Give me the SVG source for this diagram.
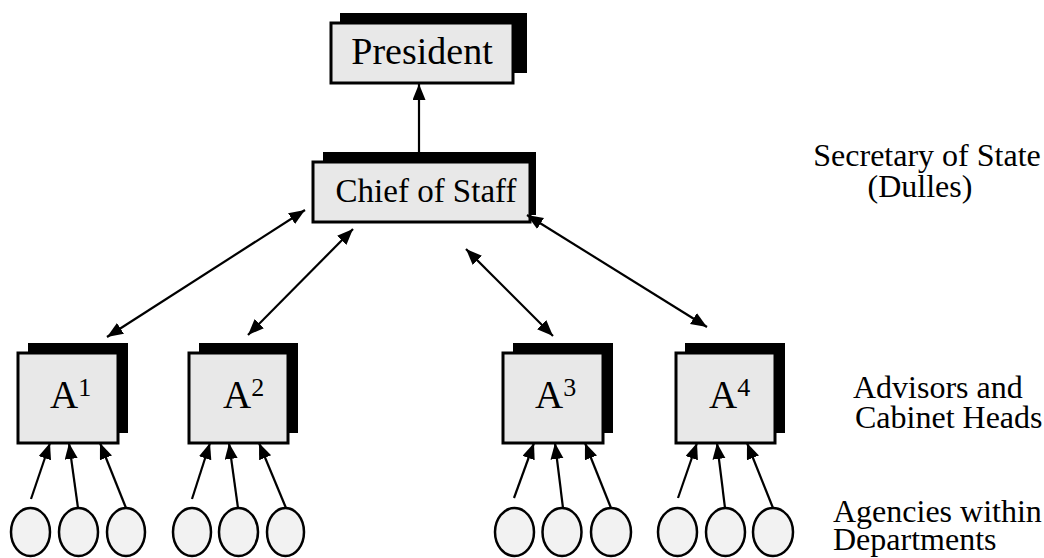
<svg xmlns="http://www.w3.org/2000/svg" width="1044" height="558" viewBox="0 0 1044 558">
<style>
.shadow{fill:#000}
.box{fill:#e8e8e8;stroke:#000;stroke-width:3}
.agency{fill:#f2f2f2;stroke:#000;stroke-width:2.5}
text{fill:#000}
.conn line{stroke:#000;stroke-width:2.2;fill:none}
.one{marker-end:url(#ah)}
.two{marker-end:url(#ah);marker-start:url(#ah)}
</style>
<defs>
<marker id="ah" markerUnits="userSpaceOnUse" markerWidth="18" markerHeight="15" refX="16" refY="6.5" orient="auto-start-reverse" viewBox="0 0 18 15">
<path d="M0,0 L16,6.5 L0,13 z" fill="#000"/>
</marker>
</defs>
<rect width="1044" height="558" fill="#fff"/>

<g id="president">
<rect class="shadow" x="340" y="13" width="187" height="60"/>
<rect class="box" x="331" y="23" width="182" height="60"/>
<text font-family="Liberation Serif, Times New Roman, serif" x="422" y="64" font-size="38" text-anchor="middle">President</text>
</g>

<g id="chief">
<rect class="shadow" x="323" y="152" width="213" height="63"/>
<rect class="box" x="313" y="162" width="217" height="60"/>
<text font-family="Liberation Serif, Times New Roman, serif" x="426" y="202" font-size="33" text-anchor="middle">Chief of Staff</text>
</g>

<g id="a1">
<rect class="shadow" x="28" y="343" width="100" height="90"/>
<rect class="box" x="18" y="353" width="100" height="90"/>
<text font-family="Liberation Serif, Times New Roman, serif" x="50" y="408" font-size="39">A<tspan font-size="26" dy="-12">1</tspan></text>
</g>
<g id="a2">
<rect class="shadow" x="199" y="343" width="99" height="90"/>
<rect class="box" x="189" y="353" width="99" height="90"/>
<text font-family="Liberation Serif, Times New Roman, serif" x="223" y="408" font-size="39">A<tspan font-size="26" dy="-12">2</tspan></text>
</g>
<g id="a3">
<rect class="shadow" x="513" y="343" width="100" height="90"/>
<rect class="box" x="503" y="353" width="100" height="90"/>
<text font-family="Liberation Serif, Times New Roman, serif" x="535" y="408" font-size="39">A<tspan font-size="26" dy="-12">3</tspan></text>
</g>
<g id="a4">
<rect class="shadow" x="685" y="343" width="100" height="90"/>
<rect class="box" x="676" y="353" width="99" height="90"/>
<text font-family="Liberation Serif, Times New Roman, serif" x="709" y="408" font-size="39">A<tspan font-size="26" dy="-12">4</tspan></text>
</g>

<g id="agencies">
<ellipse class="agency" cx="30.5" cy="532" rx="19.5" ry="24"/>
<ellipse class="agency" cx="78.5" cy="532" rx="19.5" ry="24"/>
<ellipse class="agency" cx="126" cy="532" rx="19" ry="24"/>
<ellipse class="agency" cx="192" cy="532" rx="19" ry="24"/>
<ellipse class="agency" cx="238.5" cy="532" rx="19.5" ry="24"/>
<ellipse class="agency" cx="285.5" cy="532" rx="18.5" ry="24"/>
<ellipse class="agency" cx="514.5" cy="532" rx="19.5" ry="24"/>
<ellipse class="agency" cx="562" cy="532" rx="19.5" ry="24"/>
<ellipse class="agency" cx="611" cy="532" rx="20" ry="24"/>
<ellipse class="agency" cx="677.5" cy="532" rx="19.5" ry="24"/>
<ellipse class="agency" cx="725.5" cy="532" rx="19.5" ry="24"/>
<ellipse class="agency" cx="773" cy="532" rx="20" ry="24"/>
</g>

<g id="connectors" class="conn">
<line class="one" x1="419" y1="152" x2="419" y2="84"/>
<line class="two" x1="305" y1="210" x2="107" y2="337"/>
<line class="two" x1="353" y1="229" x2="248" y2="335"/>
<line class="two" x1="466" y1="249" x2="553" y2="336"/>
<line class="two" x1="527" y1="215" x2="707" y2="327"/>

<line class="one" x1="31" y1="499" x2="50" y2="443"/>
<line class="one" x1="78" y1="508" x2="69" y2="443"/>
<line class="one" x1="126" y1="508" x2="100" y2="443"/>
<line class="one" x1="192" y1="499" x2="210" y2="443"/>
<line class="one" x1="238" y1="508" x2="229" y2="443"/>
<line class="one" x1="286" y1="508" x2="259" y2="443"/>
<line class="one" x1="514" y1="498" x2="534" y2="443"/>
<line class="one" x1="563" y1="508" x2="555" y2="443"/>
<line class="one" x1="611" y1="508" x2="585" y2="443"/>
<line class="one" x1="678" y1="498" x2="697" y2="443"/>
<line class="one" x1="725" y1="508" x2="717" y2="443"/>
<line class="one" x1="773" y1="508" x2="747" y2="443"/>
</g>

<g id="labels" font-family="Liberation Serif, Times New Roman, serif" font-size="32">
<text x="927" y="166" text-anchor="middle">Secretary of State</text>
<text x="920" y="197" text-anchor="middle">(Dulles)</text>
<text x="853" y="398">Advisors and</text>
<text x="855" y="428">Cabinet Heads</text>
<text x="833" y="522">Agencies within</text>
<text x="833" y="550">Departments</text>
</g>
</svg>
